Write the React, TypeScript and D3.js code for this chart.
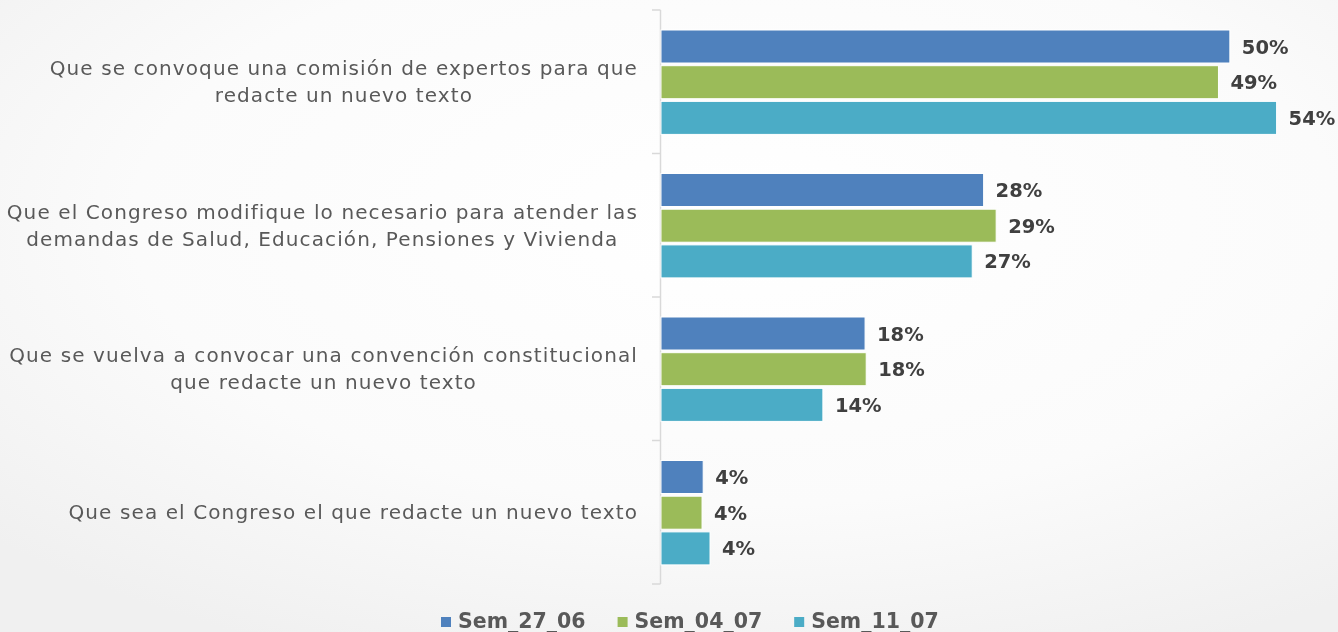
import React, { useEffect, useRef } from "react";
import * as d3 from "d3";

const categories: string[][] = [
  ["Que se convoque una comisión de expertos para que", "redacte un nuevo texto"],
  ["Que el Congreso modifique lo necesario para atender las", "demandas de Salud, Educación, Pensiones y Vivienda"],
  ["Que se vuelva a convocar una convención constitucional", "que redacte un nuevo texto"],
  ["Que sea el Congreso el que redacte un nuevo texto"],
];
const series = ["Sem_27_06", "Sem_04_07", "Sem_11_07"];
const colors = ["#4F81BD", "#9BBB59", "#4BACC6"];
const sem2706 = [49.9, 28.3, 17.9, 3.7];
const sem0407 = [48.9, 29.4, 18.0, 3.6];
const sem1107 = [54.0, 27.3, 14.2, 4.3];
const seriesValues = [sem2706, sem0407, sem1107];

const W = 1338;
const H = 632;
const FONT = "'DejaVu Sans', sans-serif";

export default function App() {
  const ref = useRef<SVGSVGElement>(null);
  useEffect(() => {
    const svg = d3.select(ref.current);
    svg.selectAll("*").remove();

    const defs = svg.append("defs");
    const grad = defs
      .append("radialGradient")
      .attr("id", "bg")
      .attr("cx", "55%")
      .attr("cy", "35%")
      .attr("r", "75%");
    grad.append("stop").attr("offset", "0%").attr("stop-color", "#ffffff");
    grad.append("stop").attr("offset", "60%").attr("stop-color", "#fbfbfb");
    grad.append("stop").attr("offset", "100%").attr("stop-color", "#f0f0f0");
    svg.append("rect").attr("width", W).attr("height", H).attr("fill", "url(#bg)");

    const x0 = 661;
    const x = d3.scaleLinear().domain([0, 60]).range([x0, x0 + 11.4 * 60]);
    const idx = categories.map((_, i) => String(i));
    const y = d3.scaleBand<string>().domain(idx).range([10, 584]).paddingInner(0);
    const yi = d3
      .scaleBand<string>()
      .domain(series)
      .range([20, 124.4])
      .paddingInner(0.075);

    // axis
    const g = svg.append("g");
    g.append("line")
      .attr("x1", 660.5).attr("x2", 660.5)
      .attr("y1", 10).attr("y2", 584)
      .attr("stroke", "#d9d9d9").attr("stroke-width", 1.5);
    const tickYs = [...idx.map((d) => y(d)!), 584];
    g.selectAll("line.tick")
      .data(tickYs)
      .enter()
      .append("line")
      .attr("class", "tick")
      .attr("x1", 652).attr("x2", 660.5)
      .attr("y1", (d) => d).attr("y2", (d) => d)
      .attr("stroke", "#d9d9d9").attr("stroke-width", 1.5);

    // bars
    series.forEach((s, si) => {
      const vals = seriesValues[si];
      const gs = svg.append("g");
      gs.selectAll("rect")
        .data(vals)
        .enter()
        .append("rect")
        .attr("x", x(0))
        .attr("y", (_, i) => y(String(i))! + yi(s)!)
        .attr("width", (d) => x(d) - x(0))
        .attr("height", yi.bandwidth())
        .attr("fill", colors[si])
        .attr("stroke", "#ffffff")
        .attr("stroke-width", 1);
      gs.selectAll("text")
        .data(vals)
        .enter()
        .append("text")
        .attr("x", (d) => x(d) + 12)
        .attr("y", (_, i) => y(String(i))! + yi(s)! + yi.bandwidth() / 2)
        .attr("dy", "0.36em")
        .attr("font-family", FONT)
        .attr("font-weight", "bold")
        .attr("font-size", 19.5)
        .attr("fill", "#404040")
        .text((d) => `${Math.round(d)}%`);
    });

    // category labels
    const lh = 27;
    categories.forEach((lines, ci) => {
      const cy = y(String(ci))! + y.bandwidth() / 2;
      const gl = svg.append("g");
      const texts = lines.map((ln, li) =>
        gl
          .append("text")
          .attr("y", cy + (li - (lines.length - 1) / 2) * lh)
          .attr("dy", "0.35em")
          .attr("text-anchor", "middle")
          .attr("font-family", FONT)
          .attr("font-size", 20)
          .attr("letter-spacing", 1.1)
          .attr("fill", "#595959")
          .text(ln)
      );
      const maxW = d3.max(texts, (t) => (t.node() as SVGTextElement).getComputedTextLength()) || 0;
      texts.forEach((t) => t.attr("x", 638 - maxW / 2));
    });

    // legend
    const lg = svg.append("g");
    let lx = 441;
    series.forEach((s, si) => {
      lg.append("rect")
        .attr("x", lx).attr("y", 617)
        .attr("width", 10).attr("height", 10)
        .attr("fill", colors[si]);
      const t = lg
        .append("text")
        .attr("x", lx + 17)
        .attr("y", 628)
        .attr("font-family", FONT)
        .attr("font-weight", "bold")
        .attr("font-size", 20.5)
        .attr("fill", "#595959")
        .text(s);
      const tw = (t.node() as SVGTextElement).getComputedTextLength();
      lx += 17 + tw + 32;
    });
  }, []);
  return (
    <div style={{ position: "fixed", left: 0, top: 0 }}>
      <svg ref={ref} width={W} height={H} style={{ display: "block" }} />
    </div>
  );
}
